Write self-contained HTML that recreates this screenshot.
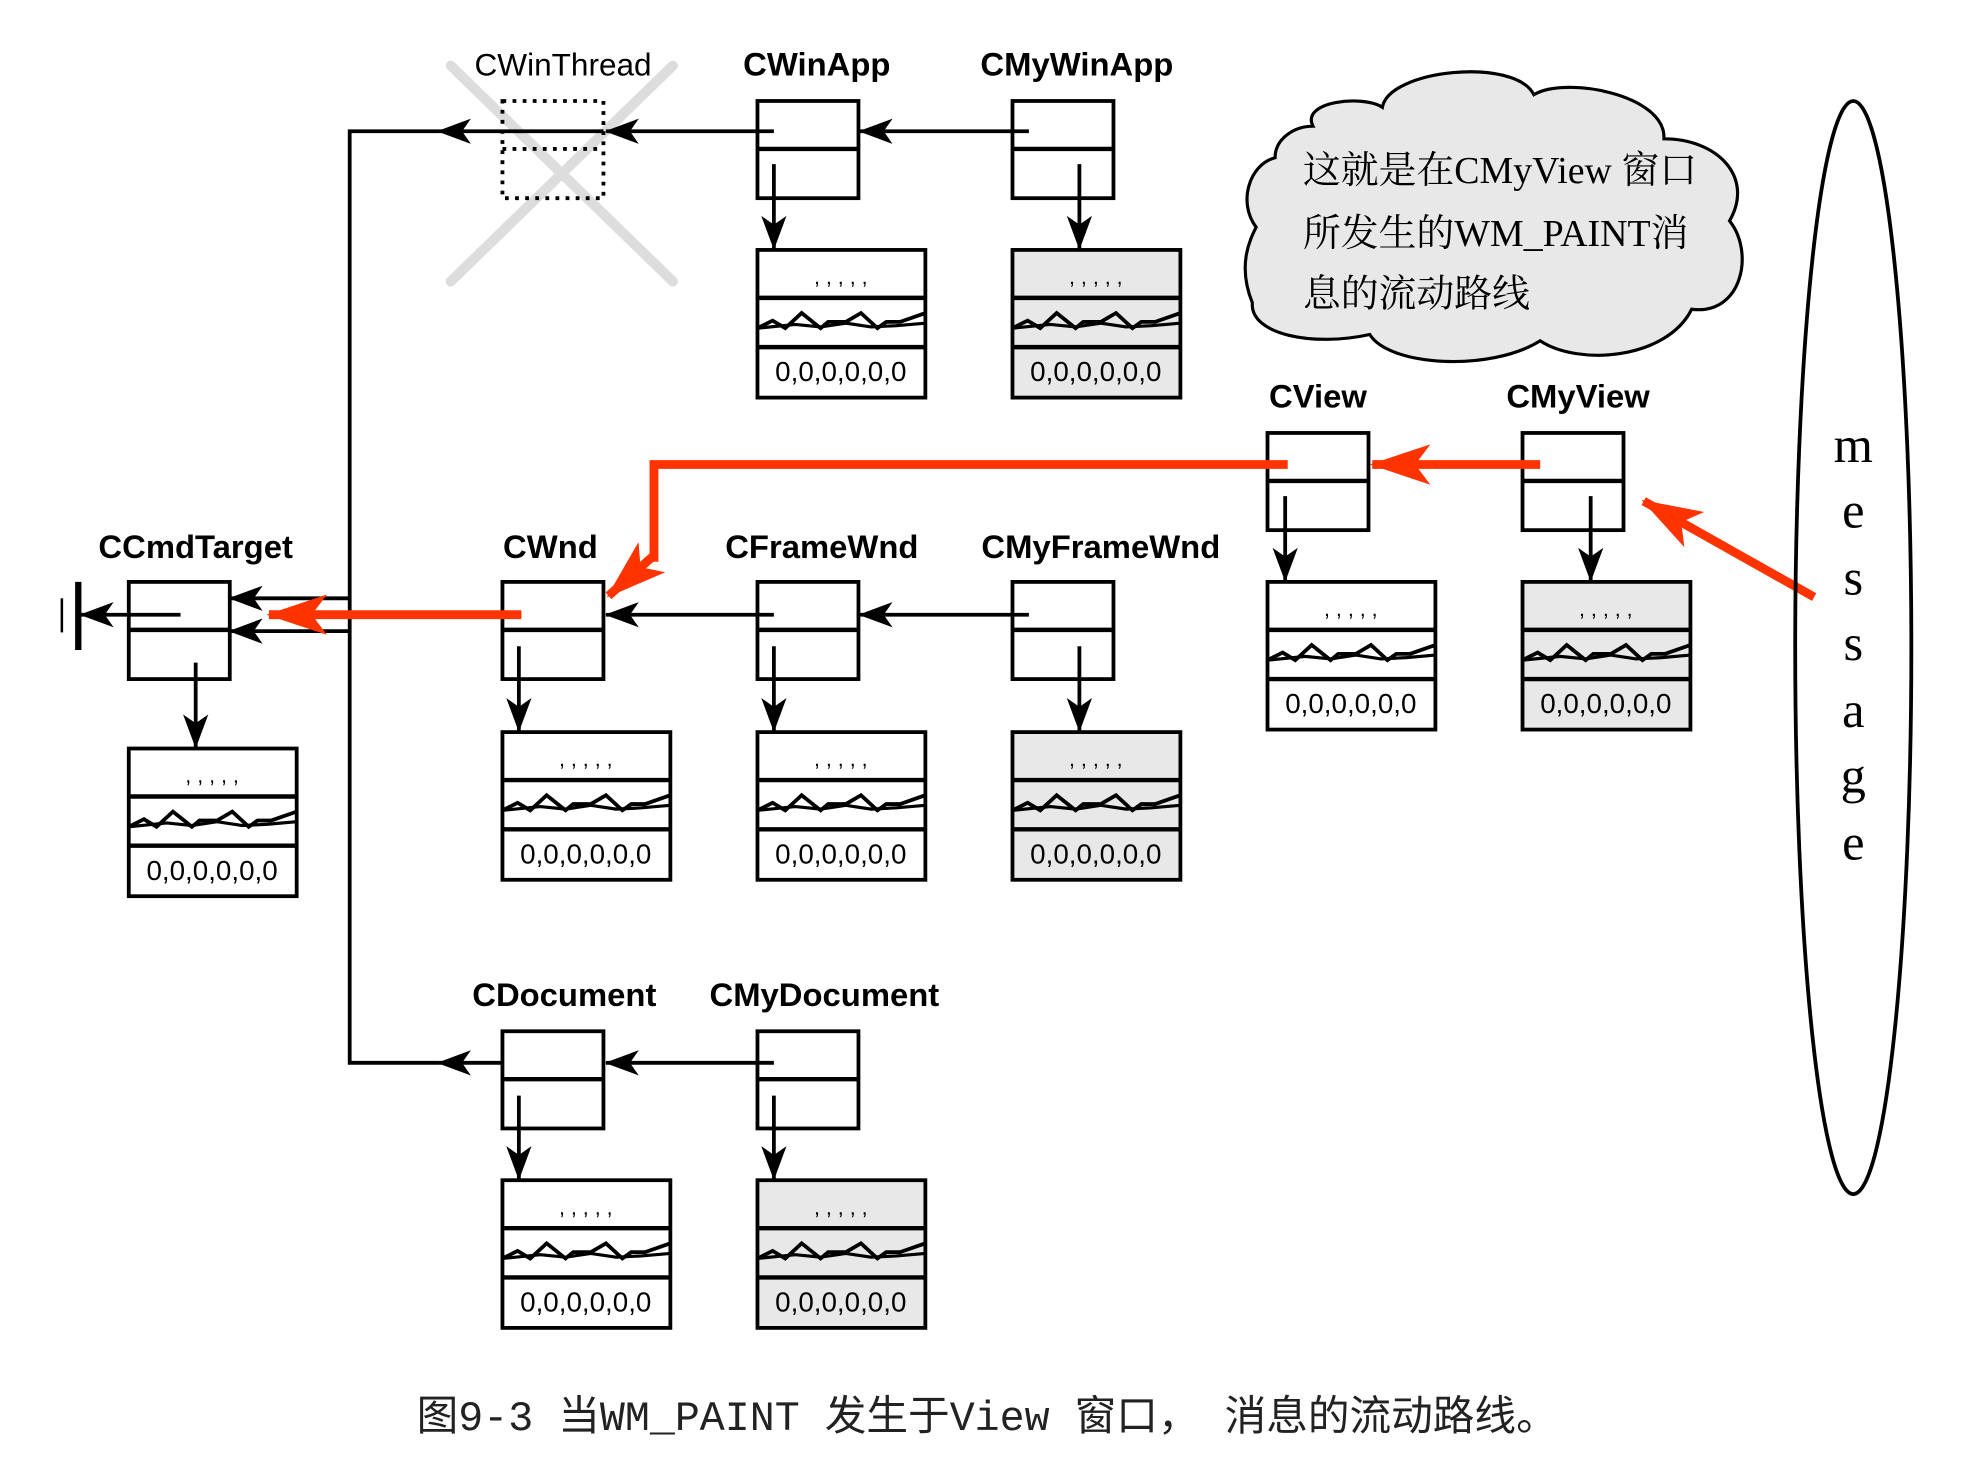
<!DOCTYPE html>
<html><head><meta charset="utf-8"><style>
html,body{margin:0;padding:0;background:#fff;}
svg{display:block;}
.lb{font-family:"Liberation Sans",sans-serif;font-weight:bold;font-size:26px;text-anchor:middle;fill:#000;}
</style></head><body>
<svg width="1977" height="1468" viewBox="0 0 1566 1163" preserveAspectRatio="none" xmlns="http://www.w3.org/2000/svg">
<defs>
<marker id="ab" markerUnits="userSpaceOnUse" markerWidth="30" markerHeight="24" refX="26" refY="10" orient="auto" viewBox="0 0 30 20">
<path d="M0,0 L27,10 L0,20 L7,10 z" fill="#000"/></marker>
<marker id="ar" markerUnits="userSpaceOnUse" markerWidth="50" markerHeight="36" refX="46" refY="16" orient="auto" viewBox="0 0 50 32">
<path d="M0,0 L48,16 L0,32 L12,16 z" fill="#ff3300"/></marker>
<g id="nb"><rect x="0" y="0" width="80" height="77" fill="#fff" stroke="#000" stroke-width="3"/><line x1="0" y1="38" x2="80" y2="38" stroke="#000" stroke-width="3.5"/></g>
<g id="tbz">
<line x1="0" y1="38" x2="133" y2="38" stroke="#000" stroke-width="3.5"/>
<line x1="0" y1="77" x2="133" y2="77" stroke="#000" stroke-width="3.5"/>
<text x="66" y="27" font-family="Liberation Sans,sans-serif" font-size="17" text-anchor="middle">, , , , ,</text>
<polyline points="0,62 12,56 22,62 35,50 50,62 56,57 70,57 82,50 95,62 102,57 113,57 133,50" fill="none" stroke="#000" stroke-width="3"/>
<polyline points="0,62 30,59 50,61 70,58 90,61 110,60 133,58" fill="none" stroke="#000" stroke-width="2.5"/>
<text x="66" y="104" font-family="Liberation Sans,sans-serif" font-size="22" text-anchor="middle">0,0,0,0,0,0</text>
<rect x="0" y="0" width="133" height="117" fill="none" stroke="#000" stroke-width="3"/>
</g>
<g id="tw"><rect x="0" y="0" width="133" height="117" fill="#fff"/><use href="#tbz"/></g>
<g id="tg"><rect x="0" y="0" width="133" height="117" fill="#e8e8e8"/><use href="#tbz"/></g>
</defs>

<line x1="357" y1="52" x2="533" y2="223" stroke="#ddd" stroke-width="8" stroke-linecap="round"/>
<line x1="533" y1="52" x2="357" y2="223" stroke="#ddd" stroke-width="8" stroke-linecap="round"/>
<rect x="398" y="80" width="80" height="77" fill="none" stroke="#000" stroke-width="3" stroke-dasharray="3,5"/>
<line x1="398" y1="118" x2="478" y2="118" stroke="#000" stroke-width="3" stroke-dasharray="3,5"/>

<polyline points="347,104 277,104 277,842 347,842" fill="none" stroke="#000" stroke-width="3"/>
<line x1="478" y1="104" x2="347" y2="104" stroke="#000" stroke-width="3" marker-end="url(#ab)"/>
<line x1="412" y1="842" x2="347" y2="842" stroke="#000" stroke-width="3" marker-end="url(#ab)"/>
<line x1="277" y1="474" x2="182" y2="474" stroke="#000" stroke-width="3" marker-end="url(#ab)"/>
<line x1="277" y1="500" x2="182" y2="500" stroke="#000" stroke-width="3" marker-end="url(#ab)"/>

<use href="#nb" x="600" y="80"/><use href="#nb" x="802" y="80"/>
<use href="#nb" x="1004" y="343"/><use href="#nb" x="1206" y="343"/>
<use href="#nb" x="102" y="461"/><use href="#nb" x="398" y="461"/>
<use href="#nb" x="600" y="461"/><use href="#nb" x="802" y="461"/>
<use href="#nb" x="398" y="817"/><use href="#nb" x="600" y="817"/>

<use href="#tw" x="600" y="198"/><use href="#tg" x="802" y="198"/>
<use href="#tw" x="1004" y="461"/><use href="#tg" x="1206" y="461"/>
<use href="#tw" x="102" y="593"/><use href="#tw" x="398" y="580"/>
<use href="#tw" x="600" y="580"/><use href="#tg" x="802" y="580"/>
<use href="#tw" x="398" y="935"/><use href="#tg" x="600" y="935"/>

<g stroke="#000" stroke-width="3" fill="none">
<line x1="613" y1="104" x2="480" y2="104" marker-end="url(#ab)"/>
<line x1="815" y1="104" x2="681" y2="104" marker-end="url(#ab)"/>
<line x1="613" y1="487" x2="480" y2="487" marker-end="url(#ab)"/>
<line x1="815" y1="487" x2="681" y2="487" marker-end="url(#ab)"/>
<line x1="613" y1="842" x2="480" y2="842" marker-end="url(#ab)"/>
<line x1="143" y1="487" x2="64" y2="487" marker-end="url(#ab)"/>
<line x1="613" y1="130" x2="613" y2="197" marker-end="url(#ab)"/>
<line x1="855" y1="130" x2="855" y2="197" marker-end="url(#ab)"/>
<line x1="1018" y1="393" x2="1018" y2="460" marker-end="url(#ab)"/>
<line x1="1260" y1="393" x2="1260" y2="460" marker-end="url(#ab)"/>
<line x1="155" y1="525" x2="155" y2="592" marker-end="url(#ab)"/>
<line x1="411" y1="512" x2="411" y2="579" marker-end="url(#ab)"/>
<line x1="613" y1="512" x2="613" y2="579" marker-end="url(#ab)"/>
<line x1="855" y1="512" x2="855" y2="579" marker-end="url(#ab)"/>
<line x1="411" y1="868" x2="411" y2="934" marker-end="url(#ab)"/>
<line x1="613" y1="868" x2="613" y2="934" marker-end="url(#ab)"/>
</g>
<line x1="62" y1="461" x2="62" y2="515" stroke="#000" stroke-width="5"/>
<line x1="49" y1="474" x2="49" y2="501" stroke="#000" stroke-width="2"/>

<g stroke="#ff3300" stroke-width="7" fill="none">
<polyline points="1020,368 518,368 518,445"/>
<line x1="518" y1="440" x2="482" y2="472" marker-end="url(#ar)"/>
<line x1="1220" y1="368" x2="1087" y2="368" marker-end="url(#ar)"/>
<line x1="413" y1="487" x2="213" y2="487" marker-end="url(#ar)"/>
<line x1="1437" y1="473" x2="1302" y2="397" marker-end="url(#ar)"/>
</g>

<text x="446" y="60" font-family="Liberation Sans,sans-serif" font-size="25" text-anchor="middle">CWinThread</text>
<text class="lb" x="647" y="60">CWinApp</text>
<text class="lb" x="853" y="60">CMyWinApp</text>
<text class="lb" x="1044" y="323">CView</text>
<text class="lb" x="1250" y="323">CMyView</text>
<text class="lb" x="155" y="442">CCmdTarget</text>
<text class="lb" x="436" y="442">CWnd</text>
<text class="lb" x="651" y="442">CFrameWnd</text>
<text class="lb" x="872" y="442">CMyFrameWnd</text>
<text class="lb" x="447" y="797">CDocument</text>
<text class="lb" x="653" y="797">CMyDocument</text>

<path d="M1040,100 C1030,80 1080,75 1095,85 C1100,55 1200,45 1215,75 C1240,60 1320,75 1318,110 C1360,110 1390,140 1370,175 C1390,200 1380,250 1340,245 C1320,285 1250,290 1220,270 C1180,295 1100,290 1085,265 C1040,275 990,265 992,240 C980,210 990,190 995,180 C980,160 990,130 1010,125 C1010,110 1025,100 1040,100 Z" fill="#e8e8e8" stroke="#000" stroke-width="2.5"/>
<g font-family="Liberation Serif,'Noto Serif CJK SC',serif" font-size="30" fill="#000">
<text x="1032" y="145">这就是在CMyView 窗口</text>
<text x="1032" y="195">所发生的WM_PAINT消</text>
<text x="1032" y="243">息的流动路线</text>
</g>

<ellipse cx="1468" cy="513" rx="46" ry="433" fill="none" stroke="#000" stroke-width="3"/>
<g font-family="Liberation Serif,serif" font-size="40" text-anchor="middle">
<text x="1468" y="366">m</text><text x="1468" y="418">e</text><text x="1468" y="471">s</text>
<text x="1468" y="523">s</text><text x="1468" y="576">a</text><text x="1468" y="628">g</text><text x="1468" y="681">e</text>
</g>

<text x="330" y="1133" font-family="'Liberation Mono','Noto Sans CJK SC',monospace" font-size="33" fill="#222">图9-3 当WM_PAINT 发生于View 窗口， 消息的流动路线。</text>
</svg>
</body></html>
